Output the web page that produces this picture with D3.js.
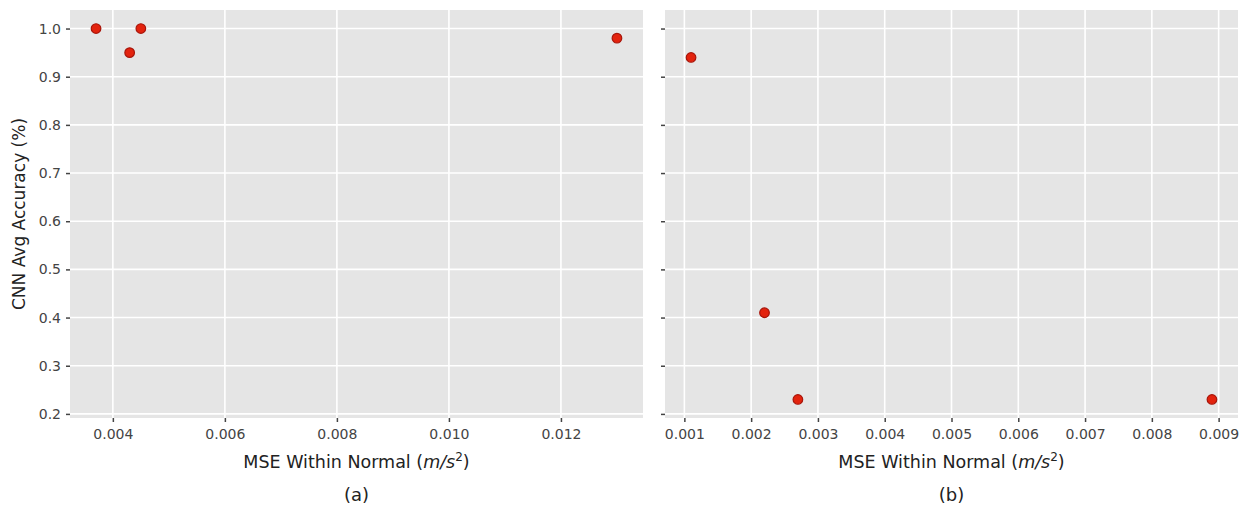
<!DOCTYPE html>
<html>
<head>
<meta charset="utf-8">
<script src="https://cdn.jsdelivr.net/npm/d3@7"></script>
<style>
  html, body { margin: 0; padding: 0; background: #fff; }
  svg { display: block; }
  text { font-family: "DejaVu Sans", sans-serif; }
</style>
</head>
<body>
<svg id="chart" width="1250" height="513"></svg>
<script>
// Panel (a): MSE vs CNN accuracy
const mseA = [0.0037, 0.0043, 0.0045, 0.0130];
const accA = [1.00, 0.95, 1.00, 0.98];
// Panel (b)
const mseB = [0.0011, 0.0022, 0.0027, 0.0089];
const accB = [0.94, 0.41, 0.23, 0.23];

const xTicksA = [0.004, 0.006, 0.008, 0.010, 0.012];
const xTicksB = [0.001, 0.002, 0.003, 0.004, 0.005, 0.006, 0.007, 0.008, 0.009];
const yTicks = [0.2, 0.3, 0.4, 0.5, 0.6, 0.7, 0.8, 0.9, 1.0];

const xTitle = "MSE Within Normal";
const yTitle = "CNN Avg Accuracy (%)";
const captions = ["(a)", "(b)"];

const svg = d3.select("#chart");
const plotTop = 10, plotBottom = 418;

// shared y scale with 5% padding, like matplotlib autoscale
function padded(vals) {
  const [lo, hi] = d3.extent(vals);
  const m = (hi - lo) * 0.05;
  return [lo - m, hi + m];
}
const y = d3.scaleLinear().domain(padded(accA.concat(accB))).range([plotBottom, plotTop]);

const panels = [
  { xs: mseA, ys: accA, ticks: xTicksA, left: 70, right: 643, fmt: d3.format(".3f"), showY: true, cap: captions[0] },
  { xs: mseB, ys: accB, ticks: xTicksB, left: 665, right: 1238, fmt: d3.format(".3f"), showY: false, cap: captions[1] }
];

panels.forEach(p => {
  const x = d3.scaleLinear().domain(padded(p.xs)).range([p.left, p.right]);
  const g = svg.append("g");

  g.append("rect")
    .attr("x", p.left).attr("y", plotTop)
    .attr("width", p.right - p.left).attr("height", plotBottom - plotTop)
    .attr("fill", "#e5e5e5");

  // grid
  g.append("g").selectAll("line").data(p.ticks).join("line")
    .attr("x1", d => x(d)).attr("x2", d => x(d))
    .attr("y1", plotTop).attr("y2", plotBottom)
    .attr("stroke", "#fff").attr("stroke-width", 1.6);
  g.append("g").selectAll("line").data(yTicks).join("line")
    .attr("x1", p.left).attr("x2", p.right)
    .attr("y1", d => y(d)).attr("y2", d => y(d))
    .attr("stroke", "#fff").attr("stroke-width", 1.6);

  // x axis
  const xAxis = g.append("g")
    .attr("transform", `translate(0,${plotBottom})`)
    .call(d3.axisBottom(x).tickValues(p.ticks).tickFormat(p.fmt).tickSize(4).tickPadding(7));
  xAxis.select(".domain").remove();
  xAxis.selectAll("line").attr("stroke", "#444").attr("stroke-width", 1.5);
  xAxis.selectAll("text").attr("fill", "#444").attr("font-size", 14)
    .attr("font-family", "DejaVu Sans, sans-serif");

  // y axis
  const yAxis = g.append("g")
    .attr("transform", `translate(${p.left},0)`)
    .call(d3.axisLeft(y).tickValues(yTicks).tickFormat(p.showY ? d3.format(".1f") : () => "").tickSize(4).tickPadding(5));
  yAxis.select(".domain").remove();
  yAxis.selectAll("line").attr("stroke", "#444").attr("stroke-width", 1.5);
  yAxis.selectAll("text").attr("fill", "#444").attr("font-size", 14)
    .attr("font-family", "DejaVu Sans, sans-serif");

  // points
  g.append("g").selectAll("circle").data(p.xs.map((v, i) => [v, p.ys[i]])).join("circle")
    .attr("cx", d => x(d[0])).attr("cy", d => y(d[1]))
    .attr("r", 4.8)
    .attr("fill", "#e3230e")
    .attr("stroke", "#a8150a").attr("stroke-width", 1.2);

  // x title with italic units and superscript
  const cx = (p.left + p.right) / 2;
  const t = g.append("text")
    .attr("x", cx).attr("y", 468)
    .attr("text-anchor", "middle")
    .attr("font-size", 17.5).attr("fill", "#222");
  t.append("tspan").text(xTitle + " (");
  t.append("tspan").attr("font-style", "italic").text("m/s");
  t.append("tspan").attr("font-size", 12).attr("dy", -7).text("2");
  t.append("tspan").attr("dy", 7).text(")");

  g.append("text")
    .attr("x", cx).attr("y", 501)
    .attr("text-anchor", "middle")
    .attr("font-size", 18).attr("fill", "#222")
    .text(p.cap);
});

svg.append("text")
  .attr("transform", `translate(25,${(plotTop + plotBottom) / 2}) rotate(-90)`)
  .attr("text-anchor", "middle")
  .attr("font-size", 17).attr("fill", "#222")
  .text(yTitle);
</script>
</body>
</html>
